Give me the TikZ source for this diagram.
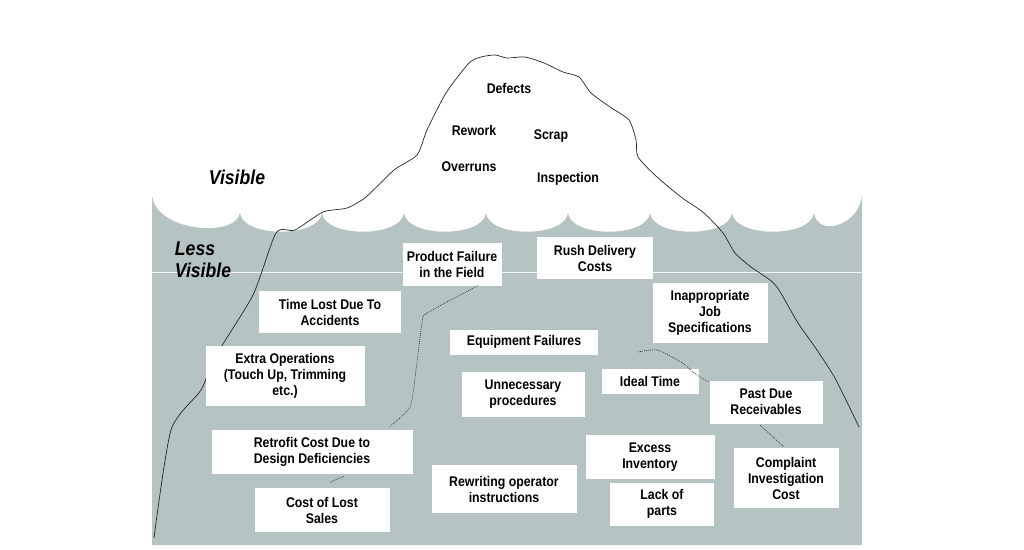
\documentclass[tikz,border=0pt]{standalone}
\usepackage{fontspec}
\setmainfont{Liberation Sans}[FakeStretch=0.88]
\definecolor{water}{RGB}{181,196,195}
\begin{document}
\begin{tikzpicture}[x=1pt,y=-1pt,
  lbl/.style={font=\bfseries\fontsize{14}{16}\selectfont,align=center,inner sep=0pt},
  box/.style={lbl,fill=white},
  big/.style={font=\bfseries\itshape\fontsize{20}{22}\selectfont,align=left,inner sep=0pt},
  crack/.style={line width=0.6pt,dash pattern=on 1pt off 1pt,black!80}]
\useasboundingbox (0,0) rectangle (1024,549);
\fill[white] (0,0) rectangle (1024,549);
% water
\fill[water] (152,545) -- (152,195)
  .. controls (155,232) and (236,238) .. (240,213)
  .. controls (243,238) and (319,238) .. (322,213)
  .. controls (325,238) and (401,238) .. (404,213)
  .. controls (407,238) and (483,238) .. (486,213)
  .. controls (489,238) and (565,238) .. (568,213)
  .. controls (571,238) and (647,238) .. (650,213)
  .. controls (653,238) and (729,238) .. (732,213)
  .. controls (735,238) and (811,238) .. (814,213)
  .. controls (818,238) and (860,225) .. (862,195)
  -- (862,545) -- cycle;
\draw[white!85!water,line width=0.6pt] (152,272) -- (862,272);
% iceberg outline
\draw[line width=0.7pt,black!85] plot[smooth,tension=0.4] coordinates {
 (154,538) (171,430) (201,390) (215,357) (253,295) (276,233) (295,230) (323,212)
 (347,208) (366,197) (394,170) (417,155) (427,130) (446,93) (469,63) (481,57)
 (495,55) (507,58) (525,57) (544,63) (563,72) (579,77) (591,93) (610,107)
 (629,120) (636,140) (638,157) (657,177) (681,197) (704,213) (723,233) (735,253)
 (751,267) (770,280) (779,290) (798,323) (817,350) (836,380) (859,427)};
% visible texts
\node[big] (vis) at (237,177) {Visible};
\node[big] (lv) at (203,260) {Less\\Visible};
\node[lbl] (def) at (509,88) {Defects};
\node[lbl] (rew) at (474,130) {Rework};
\node[lbl] (scr) at (551,136) {Scrap};
\node[lbl] (ovr) at (469,167) {Overruns};
\node[lbl] (ins) at (568,179) {Inspection};
% boxes
\node[box,minimum width=99pt,minimum height=43pt] (pf) at (452,264) {Product Failure\\in the Field};
\node[box,minimum width=116pt,minimum height=42pt] (rd) at (595,258) {Rush Delivery\\Costs};
\node[box,minimum width=142pt,minimum height=42pt] (tl) at (330,312) {Time Lost Due To\\Accidents};
\node[box,minimum width=115pt,minimum height=60pt] (ij) at (710,313) {Inappropriate\\Job\\Specifications};
\node[box,minimum width=148pt,minimum height=25pt] (ef) at (524,342) {Equipment Failures};
\node[box,minimum width=159pt,minimum height=60pt] (eo) at (285,376) {Extra Operations\\(Touch Up, Trimming\\etc.)};
\node[box,minimum width=123pt,minimum height=45pt] (up) at (523,394) {Unnecessary\\procedures};
\node[box,minimum width=97pt,minimum height=25pt] (it) at (650,381) {Ideal Time};
\node[box,minimum width=113pt,minimum height=43pt] (pd) at (766,402) {Past Due\\Receivables};
\node[box,minimum width=201pt,minimum height=44pt] (rc) at (312,452) {Retrofit Cost Due to\\Design Deficiencies};
\node[box,minimum width=129pt,minimum height=44pt] (ei) at (650,457) {Excess\\Inventory};
\node[box,minimum width=105pt,minimum height=60pt] (ci) at (786,478) {Complaint\\Investigation\\Cost};
\node[box,minimum width=145pt,minimum height=48pt] (ro) at (504,489) {Rewriting operator\\instructions};
\node[box,minimum width=135pt,minimum height=44pt] (cl) at (322,510) {Cost of Lost\\Sales};
\node[box,minimum width=104pt,minimum height=43pt] (lp) at (662,504) {Lack of\\parts};
% cracks
\draw[crack] (pf.south) ++(26,0) coordinate (c0)
  plot[smooth,tension=0.4] coordinates {(c0) (427,313) (422,323) (416,370) (410,407) (389,427)};
\draw[crack] (rc.south) ++(18,8) coordinate (c1) -- ++(14,-6);
\draw[crack] plot[smooth,tension=0.4] coordinates {(638,352) (657,350) (681,362) (697,375) (709,382)};
\draw[crack] (pd.south) coordinate (c2) (760,425) -- (784,447);
\end{tikzpicture}
\end{document}
